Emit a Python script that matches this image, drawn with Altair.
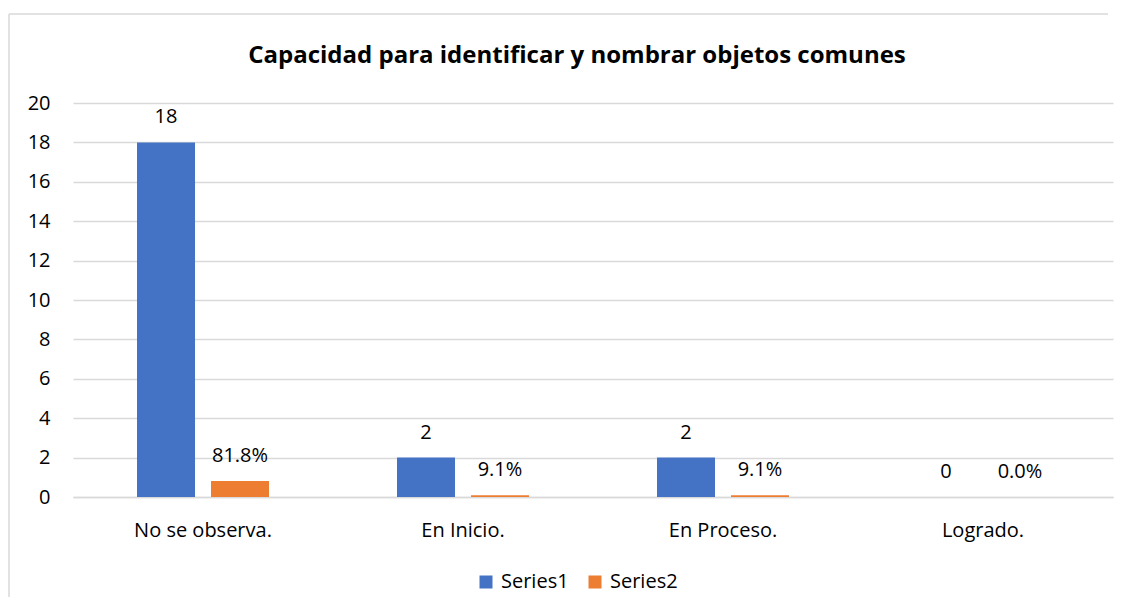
import altair as alt
import pandas as pd

categories = ["No se observa.", "En Inicio.", "En Proceso.", "Logrado."]
series1 = [18, 2, 2, 0]
series2 = [0.818, 0.091, 0.091, 0.0]
series_names = ["Series1", "Series2"]
y_ticks = [0, 2, 4, 6, 8, 10, 12, 14, 16, 18, 20]
colors = ["#4472C4", "#ED7D31"]
title_text = "Capacidad para identificar y nombrar objetos comunes"

rows = []
for c, v in zip(categories, series1):
    rows.append({"cat": c, "series": "Series1", "value": v, "label": f"{v:d}"})
for c, v in zip(categories, series2):
    rows.append({"cat": c, "series": "Series2", "value": v, "label": f"{v * 100:.1f}%"})
df = pd.DataFrame(rows)

FONT = "Open Sans"
FS = 20
FRAME = "#D9D9D9"

base = alt.Chart(df).encode(
    x=alt.X(
        "cat:N",
        sort=categories,
        scale=alt.Scale(paddingInner=0.4923, paddingOuter=0.2462),
        axis=alt.Axis(
            title=None, labelAngle=0, domain=True, domainColor="#D9D9D9",
            domainWidth=1.5, ticks=False, tickSize=0, labelPadding=23,
            labelFontSize=FS, labelFont=FONT, labelColor="#000000",
        ),
    ),
    xOffset=alt.XOffset(
        "series:N", sort=series_names,
        scale=alt.Scale(paddingInner=0.2162, paddingOuter=0),
    ),
    y=alt.Y(
        "value:Q",
        scale=alt.Scale(domain=[0, 20], nice=False),
        axis=alt.Axis(
            title=None, values=y_ticks, grid=True, gridColor="#D9D9D9",
            gridWidth=1.5, domain=False, ticks=False, tickSize=0,
            labelPadding=23, labelFontSize=FS, labelFont=FONT,
            labelColor="#000000",
        ),
    ),
)

bars = base.mark_bar().encode(
    color=alt.Color(
        "series:N",
        scale=alt.Scale(domain=series_names, range=colors),
        legend=alt.Legend(
            title=None, orient="none", direction="horizontal",
            legendX=403, legendY=469, padding=0,
            symbolType="square", symbolSize=169, symbolStrokeWidth=0,
            labelFontSize=FS, labelFont=FONT, labelColor="#000000",
            labelOffset=5, columnPadding=16,
        ),
    )
)

labels = base.mark_text(
    baseline="middle", dy=-25, fontSize=FS, font=FONT, color="#000000"
).encode(text="label:N")

one = alt.Data(values=[{}])
frame_top = alt.Chart(one).mark_rule(color=FRAME, strokeWidth=1.5).encode(
    x=alt.value(-64), x2=alt.value(1035), y=alt.value(-89)
)
frame_left = alt.Chart(one).mark_rule(color=FRAME, strokeWidth=1.5).encode(
    x=alt.value(-64), y=alt.value(-89), y2=alt.value(500)
)

chart = alt.layer(frame_top, frame_left, bars, labels).properties(
    width=1040,
    height=394,
    autosize=alt.AutoSizeParams(type="none"),
    padding={"left": 65, "top": 95, "right": 9, "bottom": 100},
    title=alt.Title(
        title_text, font=FONT, fontSize=24, fontWeight="bold",
        color="#000000", anchor="middle", offset=-55, dx=-16,
    ),
    background="#FFFFFF",
).configure_view(stroke=None)

chart.save("out.html", embed_options={"renderer": "svg", "actions": False})
